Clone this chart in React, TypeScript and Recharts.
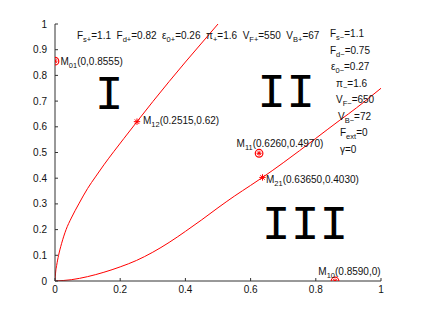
import { ComposedChart, Line, Scatter, XAxis, YAxis, ReferenceDot } from "recharts";

// curve: region I / II boundary
const upperCurve = [
  { x: 0, y: 0 },
  { x: 0.002, y: 0.035 },
  { x: 0.005, y: 0.06 },
  { x: 0.011, y: 0.1 },
  { x: 0.02, y: 0.145 },
  { x: 0.034, y: 0.2 },
  { x: 0.05, y: 0.245 },
  { x: 0.073, y: 0.3 },
  { x: 0.1, y: 0.36 },
  { x: 0.124, y: 0.405 },
  { x: 0.15, y: 0.452 },
  { x: 0.18, y: 0.503 },
  { x: 0.211, y: 0.554 },
  { x: 0.2515, y: 0.62 },
  { x: 0.3, y: 0.698 },
  { x: 0.35, y: 0.776 },
  { x: 0.4, y: 0.852 },
  { x: 0.45, y: 0.926 },
  { x: 0.5, y: 1.0 },
];

// region II / III boundary
const lowerCurve = [
  { x: 0, y: 0 },
  { x: 0.05, y: 0.005 },
  { x: 0.1, y: 0.017 },
  { x: 0.15, y: 0.034 },
  { x: 0.2, y: 0.055 },
  { x: 0.25, y: 0.08 },
  { x: 0.3, y: 0.112 },
  { x: 0.35, y: 0.15 },
  { x: 0.4, y: 0.193 },
  { x: 0.45, y: 0.238 },
  { x: 0.5, y: 0.285 },
  { x: 0.55, y: 0.33 },
  { x: 0.6, y: 0.372 },
  { x: 0.6365, y: 0.403 },
  { x: 0.7, y: 0.46 },
  { x: 0.8, y: 0.555 },
  { x: 0.874, y: 0.626 },
  { x: 0.9, y: 0.65 },
  { x: 1, y: 0.75 },
];

const points = [
  { id: "01", x: 0, y: 0.8555, text: "(0,0.8555)", ring: true },
  { id: "12", x: 0.2515, y: 0.62, text: "(0.2515,0.62)", ring: false },
  { id: "11", x: 0.626, y: 0.497, text: "(0.6260,0.4970)", ring: true },
  { id: "21", x: 0.6365, y: 0.403, text: "(0.63650,0.4030)", ring: false },
  { id: "10", x: 0.859, y: 0, text: "(0.8590,0)", ring: true },
];

const topParams = ["F_{s+}=1.1", "F_{d+}=0.82", "\u03b5_{0+}=0.26", "\u03c0_{+}=1.6", "V_{F+}=550", "V_{B+}=67"];
const sideParams = [
  "F_{s\u2212}=1.1",
  "F_{d\u2212}=0.75",
  "\u03b5_{0\u2212}=0.27",
  "\u03c0_{\u2212}=1.6",
  "V_{F\u2212}=650",
  "V_{B\u2212}=72",
  "F_{ext}=0",
  "\u03b3=0",
];

const regions = [
  { label: "I", x: 0.166, y: 0.669 },
  { label: "II", x: 0.709, y: 0.677 },
  { label: "III", x: 0.767, y: 0.162 },
];

const xTicks = [0, 0.2, 0.4, 0.6, 0.8, 1];
const yTicks = [0, 0.1, 0.2, 0.3, 0.4, 0.5, 0.6, 0.7, 0.8, 0.9, 1];

const FONT = "'Liberation Sans', Arial, Helvetica, sans-serif";
const RED = "#ff0000";

// label offsets from each marker, px
const labelOffset: Record<string, [number, number]> = {
  "01": [5.5, 4],
  "12": [6, 2],
  "11": [-22.5, -6],
  "21": [3.5, 5.3],
  "10": [-16.7, -6],
};
const sideIndent = [0, 0, 1, 6, 6, 8, 10, 10];

function tex(s: string, sub = 7.5, drop = 3) {
  const parts = s.split(/(_\{[^}]*\})/).filter((p) => p !== "");
  const out: any[] = [];
  let down = false;
  parts.forEach((p, i) => {
    if (p.startsWith("_{")) {
      out.push(
        <tspan key={i} dy={drop} fontSize={sub}>
          {p.slice(2, -1)}
        </tspan>
      );
      down = true;
    } else {
      out.push(
        <tspan key={i} dy={down ? -drop : 0}>
          {p}
        </tspan>
      );
      down = false;
    }
  });
  return out;
}

function Asterisk({ cx, cy, r }: { cx: number; cy: number; r: number }) {
  const d = r * 0.7;
  return (
    <g stroke={RED} strokeWidth={1}>
      <line x1={cx - r} y1={cy} x2={cx + r} y2={cy} />
      <line x1={cx} y1={cy - r} x2={cx} y2={cy + r} />
      <line x1={cx - d} y1={cy - d} x2={cx + d} y2={cy + d} />
      <line x1={cx - d} y1={cy + d} x2={cx + d} y2={cy - d} />
    </g>
  );
}

function PointMark(props: any) {
  const { cx, cy } = props;
  const p = props.payload ?? props;
  const [dx, dy] = labelOffset[p.id];
  return (
    <g>
      {p.ring && <circle cx={cx} cy={cy} r={3.8} fill="none" stroke={RED} strokeWidth={1.2} />}
      <Asterisk cx={cx} cy={cy} r={p.ring ? 2.5 : 3.2} />
      <text x={cx + dx} y={cy + dy} fontSize={10} fontFamily={FONT} fill="#111">
        {tex("M_{" + p.id + "}" + p.text)}
      </text>
    </g>
  );
}

export default function App() {
  return (
    <div style={{ position: "absolute", left: 0, top: 0, background: "#fff" }}>
      <ComposedChart width={421} height={317} margin={{ top: 24, right: 40, bottom: 6, left: 10 }}>
        <XAxis
          type="number"
          dataKey="x"
          domain={[0, 1]}
          ticks={xTicks}
          tickFormatter={(v: number) => String(v)}
          height={30}
          tickSize={-3}
          tickMargin={8}
          stroke="#333"
          tick={{ fill: "#111", fontSize: 10, fontFamily: FONT }}
          allowDataOverflow
        />
        <YAxis
          type="number"
          dataKey="y"
          domain={[0, 1]}
          ticks={yTicks}
          tickFormatter={(v: number) => String(v)}
          width={45}
          tickSize={-3}
          tickMargin={11}
          stroke="#333"
          tick={{ fill: "#111", fontSize: 10, fontFamily: FONT }}
          allowDataOverflow
        />
        <Line data={upperCurve} dataKey="y" type="monotone" stroke={RED} strokeWidth={1} dot={false} isAnimationActive={false} />
        <Line data={lowerCurve} dataKey="y" type="monotone" stroke={RED} strokeWidth={1} dot={false} isAnimationActive={false} />
        <Scatter data={points} dataKey="y" shape={PointMark} isAnimationActive={false} />
        <ReferenceDot
          x={0.0675}
          y={0.94}
          r={0}
          ifOverflow="visible"
          shape={(p: any) => (
            <text x={p.cx} y={p.cy} fontSize={10} fontFamily={FONT} fill="#111" style={{ whiteSpace: "pre" }}>
              {topParams.map((s, i) => (
                <tspan key={i}>
                  {i > 0 ? "  " : ""}
                  {tex(s)}
                </tspan>
              ))}
            </text>
          )}
        />
        <ReferenceDot
          x={0.8436}
          y={0.948}
          r={0}
          ifOverflow="visible"
          shape={(p: any) => (
            <g>
              {sideParams.map((s, i) => (
                <text key={i} x={p.cx + sideIndent[i]} y={p.cy + i * 16.5} fontSize={10} fontFamily={FONT} fill="#111">
                  {tex(s)}
                </text>
              ))}
            </g>
          )}
        />
        {regions.map((r) => (
          <ReferenceDot
            key={r.label}
            x={r.x}
            y={r.y}
            r={0}
            ifOverflow="visible"
            shape={(p: any) => (
              <text x={p.cx} y={p.cy} textAnchor="middle" fontSize={48} fontFamily="'Liberation Mono', 'Courier New', monospace" fill="#000">
                {r.label}
              </text>
            )}
          />
        ))}
      </ComposedChart>
    </div>
  );
}
